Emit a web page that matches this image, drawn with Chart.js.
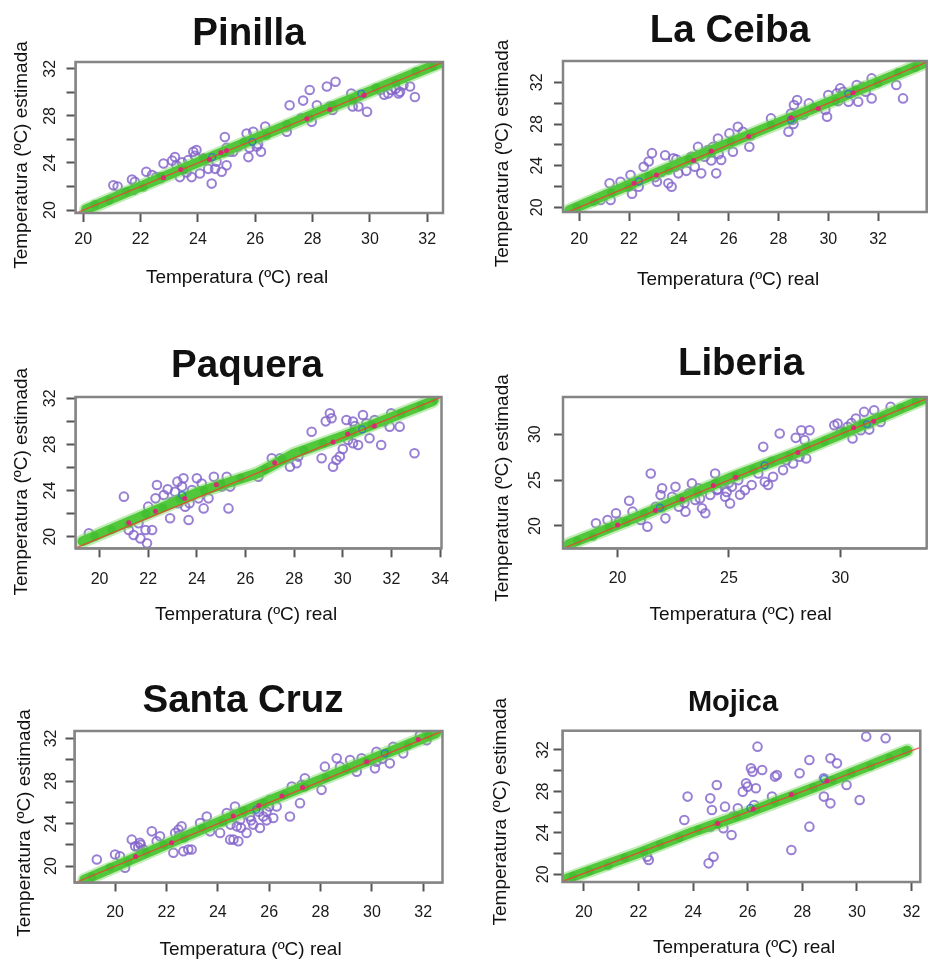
<!DOCTYPE html>
<html>
<head>
<meta charset="utf-8">
<script src="https://cdn.jsdelivr.net/npm/chart.js@4.4.0/dist/chart.umd.min.js"></script>
<style>
  html, body { margin: 0; padding: 0; background: #fff; }
  #wrap { position: relative; width: 933px; height: 961px; overflow: hidden; }
  #wrap canvas { position: absolute; }
</style>
</head>
<body>
<div id="wrap"></div>
<script>
// station names and axis texts
const stations = ['Pinilla', 'La Ceiba', 'Paquera', 'Liberia', 'Santa Cruz', 'Mojica'];
const xAxisLabel = 'Temperatura (ºC) real';
const yAxisLabel = 'Temperatura (ºC) estimada';

// tick values and the ones that carry a label
const ticks20to32 = [20, 22, 24, 26, 28, 30, 32];
const ticks20to34 = [20, 22, 24, 26, 28, 30, 32, 34];
const ticksBy5 = [20, 25, 30];
const labelsBy4 = [20, 24, 28, 32];

// ---- Pinilla ----
const pinillaPurple = [[21.05,22.1],[21.2,22.0],[21.7,22.6],[21.8,22.4],[21.75,21.7],[22.2,23.25],[22.55,22.8],[22.8,23.95],
  [23.2,24.5],[23.25,23.8],[23.37,22.8],[23.55,23.5],[23.66,24.24],[23.78,22.8],[23.84,24.95],[23.95,25.1],[24.07,23.1],
  [24.36,23.5],[24.48,22.25],[24.65,24.1],[24.83,23.25],[24.94,26.2],[25.0,23.8],[25.23,24.95],[25.7,26.5],[25.76,24.5],
  [25.93,26.65],[26.05,25.4],[26.2,24.95],[26.35,27.1],[27.1,26.65],[27.2,28.9],[27.67,29.3],[27.9,30.2],[27.97,27.5],
  [28.15,28.9],[28.5,30.5],[28.8,30.9],[28.7,28.5],[29.35,29.9],[29.4,28.8],[29.6,28.8],[29.9,28.35],[29.65,29.75],
  [30.35,30.2],[30.64,29.9],[30.75,30.2],[31.05,30.05],[31.17,30.6],[31.4,30.5],[31.57,29.6],[30.9,30.3],
  [22.4,22.97],[22.7,22.7],[23.1,24.2],[24.2,24.4],[25.1,24.95],[25.4,25.4],[27.1,27.1],[27.6,27.8],[28.6,28.8],
  [23.45,24.05],[23.6,23.2],[23.9,24.6],[24.6,23.5],[25.0,25.3],[25.8,25.3],[26.1,25.6],[30.5,29.8],[31.0,29.9]];
const pinillaBand = [[20.1,20.05],[24,24.05],[28,28.1],[32.4,32.45]];
const pinillaGreen = [[20.4,20.5],[20.9,20.8],[21.5,21.6],[22.1,21.9],[22.7,22.9],[23.5,23.4],[24.2,24.4],[24.9,24.8],
  [25.6,25.8],[26.4,26.3],[27.1,27.3],[27.9,27.8],[28.7,28.9],[29.4,29.3],[30.2,30.4],[30.9,30.8],[31.6,31.8],[32.2,32.2]];
const pinillaMagenta = [[22.8,22.75],[23.4,23.45],[24.4,24.3],[25.0,25.05],[27.8,27.75],[28.6,28.55],[29.8,29.75],[24.8,24.9]];
const pinillaBlue = [[24.5,24.5],[25.9,25.8],[29.7,29.9]];
const pinillaRed = [[19.7,19.7],[32.6,32.6]];

// ---- La Ceiba ----
const ceibaPurple = [[20.86,20.7],[21.26,20.7],[21.22,22.3],[21.66,22.46],[21.86,21.98],[22.06,23.1],[22.12,21.3],[22.39,21.98],
  [22.59,23.9],[22.79,24.4],[22.92,25.2],[23.05,22.9],[23.12,22.46],[23.45,25.0],[23.58,22.3],[23.71,21.98],[23.78,24.7],
  [23.85,23.9],[23.98,23.26],[24.05,24.2],[24.5,24.86],[24.64,23.9],[24.77,25.8],[24.9,23.26],[25.04,24.86],[25.17,25.5],
  [25.37,25.8],[25.5,23.26],[25.57,26.6],[25.7,24.54],[26.03,27.1],[26.17,25.34],[26.37,27.74],[26.57,27.26],[26.83,25.82],
  [27.7,28.54],[28.4,27.26],[28.55,28.38],[28.62,29.82],[28.75,30.3],[28.5,29.0],[29.22,29.98],[29.88,29.34],[29.95,28.7],
  [30.0,30.78],[30.34,30.94],[30.48,31.42],[30.81,30.14],[31.2,30.14],[31.4,31.58],[31.74,32.38],[31.74,30.46],[32.73,31.74],
  [33.0,30.46],[30.6,31.1],[31.14,31.74],
  [23.3,23.4],[23.9,24.6],[24.3,23.5],[25.3,24.5],[25.6,25.1],[28.6,28.0],[29.0,28.9],[30.4,30.2],[31.5,31.1]];
const ceibaBand = [[19.6,19.7],[24,24.2],[28,28.1],[33.8,33.8]];
const ceibaGreen = [[19.9,20.0],[20.6,20.5],[21.3,21.4],[22.0,21.9],[22.8,23.0],[23.6,23.5],[24.4,24.6],[25.3,25.2],[26.1,26.3],
  [26.9,26.8],[27.7,27.9],[28.6,28.5],[29.4,29.6],[30.3,30.2],[31.1,31.3],[32.0,31.9],[32.8,33.0],[33.5,33.4]];
const ceibaMagenta = [[22.2,22.3],[23.1,23.1],[24.6,24.5],[25.3,25.4],[26.8,26.8],[28.5,28.6],[29.6,29.5],[31.0,31.0]];
const ceibaBlue = [[22.4,22.5],[28.5,28.4],[30.8,30.9]];
const ceibaRed = [[19.4,19.4],[34.0,34.0]];

// ---- Paquera ----
const paqueraPurple = [[19.56,20.29],[21.0,23.47],[21.2,20.58],[21.4,20.14],[21.6,21.16],[21.68,19.85],[21.89,20.58],[21.95,19.42],
  [22.0,22.6],[22.16,20.58],[22.3,23.32],[22.36,24.48],[22.64,23.61],[22.9,21.6],[22.98,23.03],[23.2,24.77],[23.25,22.9],
  [23.39,24.34],[23.45,25.06],[23.52,22.6],[23.66,21.44],[23.6,23.47],[23.8,24.05],[24.0,25.06],[24.07,23.32],[24.28,22.45],
  [24.48,23.32],[24.7,25.2],[25.03,24.34],[25.23,25.2],[25.3,22.45],[25.37,24.34],[26.53,25.2],[27.08,26.8],[27.42,26.8],
  [27.83,26.07],[28.1,26.36],[28.17,26.94],[28.72,29.1],[29.13,26.8],[29.47,30.7],[29.54,30.27],[29.6,26.07],[29.74,26.65],
  [29.88,26.94],[30.15,30.12],[30.22,28.39],[30.42,28.1],[30.63,27.95],[30.83,30.55],[31.1,28.53],[31.31,30.12],[31.58,27.95],
  [31.99,30.7],[31.93,29.54],[32.34,29.54],[32.95,27.23],[30.42,29.98],[30.97,29.83],
  [23.1,23.9],[23.7,22.9],[24.2,24.6],[22.8,24.1],[29.3,30.0],[30.5,29.6],[31.7,30.0],[30.0,27.6]];
const paqueraBand = [[19.3,19.6],[24,23.8],[26.5,25.5],[28,27.2],[30,28.7],[32,30.35],[33.7,31.75]];
const paqueraGreen = [[19.8,20.0],[20.5,20.6],[21.2,21.1],[21.9,22.0],[22.6,22.5],[23.3,23.3],[24.3,24.0],[25.0,24.6],[25.8,25.1],
  [26.8,25.8],[27.5,26.7],[28.4,27.5],[29.2,28.1],[30.4,29.1],[31.2,29.7],[32.4,30.7],[33.2,31.3],[33.8,31.9]];
const paqueraMagenta = [[21.2,21.2],[22.3,22.2],[23.5,23.3],[24.8,24.5],[27.2,26.4],[29.6,28.2],[30.2,28.9],[31.3,29.6]];
const paqueraBlue = [[23.4,23.6],[30.8,29.3]];
const paqueraRed = [[19.0,19.0],[34.06,32.1]];

// ---- Liberia ----
const liberiaPurple = [[19.03,20.29],[19.55,20.65],[19.93,21.38],[20.07,20.47],[20.52,22.75],[20.67,21.56],[21.04,20.65],[21.34,19.93],
  [21.49,25.72],[21.71,22.1],[21.93,23.37],[22.0,24.1],[22.15,20.83],[22.45,23.19],[22.6,24.28],[22.75,22.1],[22.9,23.0],
  [23.05,21.56],[23.2,23.55],[23.34,24.64],[23.49,22.83],[23.64,24.1],[23.79,21.92],[23.94,21.38],[24.16,23.37],[24.38,25.72],
  [24.46,23.91],[24.68,24.64],[24.83,23.19],[25.05,22.46],[25.13,24.28],[25.42,25.0],[25.72,23.91],[26.02,24.46],[26.32,25.72],
  [26.54,28.62],[26.61,24.82],[26.76,24.46],[26.98,25.36],[27.28,30.07],[27.43,26.09],[27.58,27.17],[27.88,26.81],[28.17,27.54],
  [28.25,30.43],[28.4,29.35],[28.62,30.43],[28.47,27.36],[29.88,31.16],[30.03,30.25],[30.33,30.8],[30.55,29.53],[30.7,31.7],
  [30.92,30.43],[31.07,32.43],[31.29,31.16],[31.52,32.6],[31.81,31.34],[32.26,32.97],[30.18,30.25],[29.73,30.98],
  [23.0,22.5],[23.7,23.0],[24.5,24.0],[25.0,24.7],[25.5,23.4],[24.9,23.7],[28.3,28.2],[30.5,31.2],[31.3,30.5],[28.0,29.6]];
const liberiaBand = [[17.8,18.0],[21,21.1],[25,25.2],[28,27.95],[30,29.95],[33.7,33.8]];
const liberiaGreen = [[18.2,18.4],[18.9,18.8],[19.6,19.8],[20.4,20.4],[21.2,21.4],[22.0,21.9],[22.8,23.0],[23.6,23.6],[24.4,24.7],
  [25.3,25.4],[26.1,26.1],[26.9,27.1],[27.7,27.6],[28.5,28.6],[29.3,29.2],[30.2,30.3],[31.0,31.2],[31.9,31.8],[32.7,32.9],[33.4,33.5]];
const liberiaMagenta = [[20.0,20.1],[21.7,21.7],[22.9,22.9],[24.3,24.4],[25.3,25.3],[28.1,28.0],[30.6,30.7],[31.5,31.4]];
const liberiaBlue = [[21.9,22.0],[26.6,26.6],[31.2,31.1]];
const liberiaRed = [[17.6,17.6],[33.9,33.9]];

// ---- Santa Cruz ----
const santaCruzPurple = [[19.29,20.62],[20.0,21.09],[20.19,20.93],[20.39,19.84],[20.65,22.49],[20.78,21.87],[20.97,22.18],[21.1,21.56],
  [21.43,23.27],[21.62,22.34],[21.75,22.8],[22.27,21.25],[22.34,23.12],[22.47,23.43],[22.59,23.74],[22.66,21.4],[22.85,21.56],
  [22.98,21.56],[23.31,24.05],[23.57,24.67],[23.7,23.27],[24.09,23.12],[24.35,24.99],[24.48,22.49],[24.61,22.49],[24.8,22.34],
  [24.67,25.61],[24.74,23.74],[24.87,24.36],[25.12,23.12],[25.25,24.67],[25.38,23.9],[25.51,25.61],[25.64,23.58],[25.77,24.67],
  [25.9,25.14],[26.03,26.23],[26.16,24.52],[26.29,25.61],[26.81,24.67],[26.88,27.48],[27.2,25.92],[27.27,27.64],[27.39,28.26],
  [28.04,27.17],[28.17,29.35],[28.63,30.13],[28.76,29.35],[29.15,29.97],[29.41,28.88],[29.6,30.13],[30.12,29.19],[30.18,30.75],
  [30.7,29.66],[30.83,31.22],[31.22,30.6],[31.87,32.3],[32.13,31.84],[30.18,29.82],
  [21.0,22.0],[20.9,21.8],[22.5,22.9],[24.9,23.6],[25.3,24.3],[25.6,25.1],[25.9,24.3],[26.0,25.6],[24.5,23.9],[29.3,29.3],[30.4,30.1]];
const santaCruzBand = [[18.8,18.7],[22,22.05],[26,26.15],[29,29.1],[32.5,32.5]];
const santaCruzGreen = [[19.1,19.0],[19.8,19.9],[20.5,20.4],[21.2,21.3],[21.9,22.0],[22.7,22.6],[23.4,23.6],[24.2,24.1],[25.0,25.2],
  [25.8,25.9],[26.6,26.7],[27.4,27.4],[28.2,28.3],[29.0,29.1],[29.8,29.8],[30.6,30.7],[31.4,31.3],[32.2,32.3]];
const santaCruzMagenta = [[20.8,20.9],[22.2,22.2],[24.6,24.7],[25.6,25.7],[26.5,26.6],[27.3,27.4],[29.8,29.8],[31.8,31.9]];
const santaCruzBlue = [[25.5,25.3],[30.5,30.6]];
const santaCruzRed = [[18.4,18.4],[32.75,32.7]];

// ---- Mojica ----
const mojicaPurple = [[22.32,21.7],[22.38,21.38],[23.68,25.24],[23.8,27.5],[24.57,21.06],[24.75,21.7],[24.69,26.21],[24.63,27.33],
  [24.87,28.62],[25.17,26.53],[25.11,24.44],[25.41,23.8],[25.64,26.37],[25.82,27.98],[25.94,28.78],[26.0,28.46],[26.12,30.23],
  [26.18,29.91],[26.24,26.69],[26.3,28.3],[26.36,32.32],[26.53,30.07],[26.89,27.5],[27.0,29.43],[27.07,29.59],[27.6,22.35],
  [27.9,29.75],[28.26,31.03],[28.26,24.6],[28.79,27.5],[29.03,26.85],[29.03,31.2],[29.27,30.71],[29.62,28.62],[30.1,27.17],
  [30.34,33.29],[31.05,33.13],[28.79,29.27],[24.63,24.6],[25.47,25.57]];
const mojicaBand = [[19.4,19.6],[22,22.05],[24,24.1],[26,25.95],[29,28.95],[31.85,31.95]];
const mojicaGreen = [[19.6,19.8],[20.2,20.3],[20.9,20.8],[21.5,21.6],[22.2,22.2],[22.8,22.9],[23.5,23.5],[24.2,24.3],[24.9,24.8],
  [25.6,25.6],[26.3,26.3],[27.0,27.0],[27.7,27.6],[28.4,28.4],[29.1,29.1],[29.8,29.8],[30.5,30.4],[31.2,31.2],[31.8,31.9]];
const mojicaMagenta = [[24.9,24.9],[26.2,26.3],[27.6,27.7],[28.9,29.0]];
const mojicaBlue = [[28.8,29.2],[26.1,26.4]];
const mojicaRed = [[19.2,19.3],[32.32,32.26]];

const seriesByStation = [
  { purple: pinillaPurple, band: pinillaBand, green: pinillaGreen, magenta: pinillaMagenta, blue: pinillaBlue, red: pinillaRed },
  { purple: ceibaPurple, band: ceibaBand, green: ceibaGreen, magenta: ceibaMagenta, blue: ceibaBlue, red: ceibaRed },
  { purple: paqueraPurple, band: paqueraBand, green: paqueraGreen, magenta: paqueraMagenta, blue: paqueraBlue, red: paqueraRed },
  { purple: liberiaPurple, band: liberiaBand, green: liberiaGreen, magenta: liberiaMagenta, blue: liberiaBlue, red: liberiaRed },
  { purple: santaCruzPurple, band: santaCruzBand, green: santaCruzGreen, magenta: santaCruzMagenta, blue: santaCruzBlue, red: santaCruzRed },
  { purple: mojicaPurple, band: mojicaBand, green: mojicaGreen, magenta: mojicaMagenta, blue: mojicaBlue, red: mojicaRed }
];

// page geometry of each panel (cell, plot box, text anchors) and axis ranges
const panels = [
  { cell: [0, 0, 466, 325], box: [75.5, 62, 443, 213], x: [19.73, 32.55], y: [19.75, 32.58],
    xTicks: ticks20to32, yTicks: ticks20to32, yLabels: labelsBy4,
    titleSize: 38.5, title: [249, 45], xLab: [237, 283], yLab: [27, 155], yGap: 25, xGap: 26.5 },
  { cell: [466, 0, 467, 325], box: [563, 61, 930, 212], x: [19.35, 33.95], y: [19.55, 34.05],
    xTicks: ticks20to32, yTicks: ticks20to32, yLabels: labelsBy4,
    titleSize: 38.5, title: [730, 41.7], xLab: [728, 285], yLab: [508, 153.5], yGap: 25, xGap: 27.5 },
  { cell: [0, 325, 466, 330], box: [75.5, 397, 441.5, 548.3], x: [19.01, 34.06], y: [18.99, 32.11],
    xTicks: ticks20to34, yTicks: ticks20to32, yLabels: labelsBy4,
    titleSize: 38.5, title: [247, 377.3], xLab: [246, 620], yLab: [27, 481.7], yGap: 25, xGap: 31 },
  { cell: [466, 325, 467, 330], box: [563, 397, 929.5, 548.3], x: [17.55, 33.88], y: [17.57, 34.05],
    xTicks: ticksBy5, yTicks: ticksBy5, yLabels: ticksBy5,
    titleSize: 38.5, title: [741, 375], xLab: [740.7, 620], yLab: [508, 488], yGap: 27, xGap: 30 },
  { cell: [0, 655, 466, 306], box: [74.5, 731, 442.5, 882.5], x: [18.42, 32.75], y: [18.46, 32.7],
    xTicks: ticks20to32, yTicks: ticks20to32, yLabels: labelsBy4,
    titleSize: 38.5, title: [243, 711.7], xLab: [250.5, 955], yLab: [30, 823], yGap: 23, xGap: 30 },
  { cell: [466, 655, 467, 306], box: [562.5, 730.7, 930, 882], x: [19.22, 32.32], y: [19.26, 33.86],
    xTicks: ticks20to32, yTicks: ticks20to32, yLabels: labelsBy4,
    titleSize: 29, title: [733, 710.7], xLab: [744, 953], yLab: [506, 811.7], yGap: 19, xGap: 31 }
];

const FONT = '"Liberation Sans", Arial, Helvetica, sans-serif';
const TICK_SIZE = 16;
const Y_AXIS_W = 50;
const X_AXIS_H = 40;
const TICK_LEN = 9;

// gray frame round the plot region
const framePlugin = {
  id: 'frame',
  afterDraw(chart) {
    const { ctx, chartArea: a } = chart;
    ctx.save();
    ctx.strokeStyle = '#858585';
    ctx.lineWidth = 2.5;
    ctx.strokeRect(a.left, a.top, a.right - a.left, a.bottom - a.top);
    ctx.restore();
  }
};

// station title and the two axis titles, placed like in the figure
const panelTextPlugin = {
  id: 'panelText',
  afterDraw(chart, args, o) {
    const ctx = chart.ctx;
    ctx.save();
    ctx.fillStyle = '#111';
    ctx.textAlign = 'center';
    ctx.textBaseline = 'alphabetic';
    ctx.font = 'bold ' + o.titleSize + 'px ' + FONT;
    ctx.fillText(o.title, o.titleX, o.titleY);
    ctx.font = '19px ' + FONT;
    ctx.fillText(xAxisLabel, o.xLabX, o.xLabY);
    ctx.translate(o.yLabX, o.yLabY);
    ctx.rotate(-Math.PI / 2);
    ctx.fillText(yAxisLabel, 0, 0);
    ctx.restore();
  }
};

function axis(range, tickVals, labelVals, isY, gap) {
  const halfLabel = isY ? TICK_SIZE * 0.556 : TICK_SIZE * 0.6;
  const pad = gap - TICK_LEN - halfLabel;
  return {
    type: 'linear',
    min: range[0],
    max: range[1],
    afterBuildTicks: s => { s.ticks = tickVals.map(v => ({ value: v })); },
    afterFit: s => { if (isY) s.width = Y_AXIS_W; else s.height = X_AXIS_H; },
    border: { display: true, color: '#555', width: 1.5 },
    grid: { display: true, drawOnChartArea: false, drawTicks: true, tickLength: TICK_LEN, tickColor: '#555', tickWidth: 2 },
    ticks: {
      autoSkip: false,
      color: '#1a1a1a',
      font: { family: FONT, size: TICK_SIZE },
      padding: Math.max(pad, 0),
      minRotation: isY ? 90 : 0,
      maxRotation: isY ? 90 : 0,
      crossAlign: isY ? 'center' : 'near',
      callback: v => labelVals.includes(v) ? String(v) : ''
    }
  };
}

const wrap = document.getElementById('wrap');

panels.forEach((p, i) => {
  const s = seriesByStation[i];
  const [cl, ct, cw, ch] = p.cell;
  const [bl, bt, br, bb] = p.box;

  const canvas = document.createElement('canvas');
  canvas.width = cw;
  canvas.height = ch;
  canvas.style.left = cl + 'px';
  canvas.style.top = ct + 'px';
  canvas.style.width = cw + 'px';
  canvas.style.height = ch + 'px';
  wrap.appendChild(canvas);

  new Chart(canvas.getContext('2d'), {
    type: 'scatter',
    data: {
      datasets: [
        { label: 'estimada', data: s.purple, order: 6, pointRadius: 4.3, pointBorderWidth: 2,
          pointBorderColor: 'rgba(130,100,202,0.82)', pointBackgroundColor: 'rgba(0,0,0,0)' },
        { label: 'banda', data: s.band, order: 5, showLine: true, pointRadius: 0, borderWidth: 14,
          borderColor: 'rgba(120,212,96,0.45)', borderCapStyle: 'round', borderJoinStyle: 'round' },
        { label: 'modelo', data: s.band, order: 4, showLine: true, pointRadius: 0, borderWidth: 10,
          borderColor: 'rgba(80,200,58,1)', borderCapStyle: 'round', borderJoinStyle: 'round' },
        { label: 'modelo puntos', data: s.green, order: 3, pointRadius: 4.3, pointBorderWidth: 0,
          pointBackgroundColor: 'rgba(56,182,42,0.5)' },
        { label: 'azul', data: s.blue, order: 2, pointRadius: 3.4, pointBorderWidth: 1.5,
          pointBorderColor: 'rgba(50,110,210,0.8)', pointBackgroundColor: 'rgba(0,0,0,0)' },
        { label: '1:1', data: s.red, order: 1, showLine: true, pointRadius: 0, borderWidth: 1.4,
          borderColor: 'rgba(238,64,48,0.8)' },
        { label: 'magenta', data: s.magenta, order: 0, pointRadius: 2.5, pointBorderWidth: 0,
          pointBackgroundColor: 'rgba(226,30,122,0.9)' }
      ]
    },
    options: {
      responsive: false,
      animation: false,
      events: [],
      layout: {
        padding: {
          left: bl - cl - Y_AXIS_W,
          top: bt - ct,
          right: cl + cw - br,
          bottom: ct + ch - bb - X_AXIS_H
        }
      },
      scales: {
        x: axis(p.x, p.xTicks, p.xTicks, false, p.xGap),
        y: axis(p.y, p.yTicks, p.yLabels, true, p.yGap)
      },
      plugins: {
        legend: { display: false },
        tooltip: { enabled: false },
        panelText: {
          title: stations[i], titleSize: p.titleSize,
          titleX: p.title[0] - cl, titleY: p.title[1] - ct,
          xLabX: p.xLab[0] - cl, xLabY: p.xLab[1] - ct,
          yLabX: p.yLab[0] - cl, yLabY: p.yLab[1] - ct
        }
      }
    },
    plugins: [framePlugin, panelTextPlugin]
  });
});
</script>
</body>
</html>
